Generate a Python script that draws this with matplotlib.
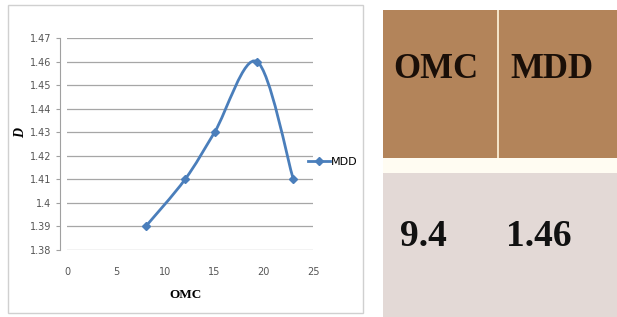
import matplotlib
matplotlib.use("Agg")
import matplotlib.pyplot as plt
from matplotlib.path import Path
from matplotlib.patches import PathPatch, Rectangle
from matplotlib.lines import Line2D

omc = [8, 12, 15, 19.3, 23]
mdd = [1.39, 1.41, 1.43, 1.46, 1.41]
yticks = [1.38, 1.39, 1.40, 1.41, 1.42, 1.43, 1.44, 1.45, 1.46, 1.47]
ytick_labels = ['1.38', '1.39', '1.4', '1.41', '1.42', '1.43', '1.44', '1.45', '1.46', '1.47']
xticks = [0, 5, 10, 15, 20, 25]
table_headers = ['OMC', 'MDD']
table_values = ['9.4', '1.46']

W, H = 617, 317
blue = '#4A7EBB'


def fx(px):
   return px / W


def fy(py):
   return 1 - py / H


def smoothPath(xs, ys):
   # excel-like smoothed line: cubic bezier through every point
   n = len(xs)
   verts = [(xs[0], ys[0])]
   codes = [Path.MOVETO]
   for i in range(n - 1):
      x0, y0 = (xs[i - 1], ys[i - 1]) if i > 0 else (xs[i], ys[i])
      x3, y3 = (xs[i + 2], ys[i + 2]) if i + 2 < n else (xs[i + 1], ys[i + 1])
      c1 = (xs[i] + (xs[i + 1] - x0) / 6, ys[i] + (ys[i + 1] - y0) / 6)
      c2 = (xs[i + 1] - (x3 - xs[i]) / 6, ys[i + 1] - (y3 - ys[i]) / 6)
      verts += [c1, c2, (xs[i + 1], ys[i + 1])]
      codes += [Path.CURVE4] * 3
   return Path(verts, codes)


fig = plt.figure(figsize=(W / 100, H / 100), dpi=100)

# chart frame
frame = fig.add_axes([0, 0, 1, 1])
frame.set_xlim(0, W)
frame.set_ylim(H, 0)
frame.axis('off')
frame.add_patch(Rectangle((8, 5), 355, 308, fill=False, edgecolor='#D0D0D0', lw=1))

ax = fig.add_axes([fx(67), fy(250), fx(313) - fx(67), fy(38) - fy(250)])
ax.set_xlim(0, 25)
ax.set_ylim(1.38, 1.47)
ax.set_yticks(yticks)
ax.set_yticklabels(ytick_labels)
ax.set_xticks(xticks)
for s in ['top', 'right', 'bottom']:
   ax.spines[s].set_visible(False)
ax.spines['left'].set_color('#A0A0A0')
ax.spines['left'].set_position(('outward', 5))
ax.grid(axis='y', color='#A6A6A6', lw=0.9)
ax.set_axisbelow(True)
ax.tick_params(axis='both', colors='#A0A0A0', labelcolor='#555555', labelsize=7, length=3)
ax.tick_params(axis='x', length=0, pad=12)
for lab in ax.get_xticklabels() + ax.get_yticklabels():
   lab.set_family(['Liberation Sans Narrow', 'DejaVu Sans'])

ax.add_patch(PathPatch(smoothPath(omc, mdd), fill=False, edgecolor=blue, lw=2))
ax.plot(omc, mdd, ls='none', marker='D', ms=4, color=blue)

ax.legend(handles=[Line2D([], [], color=blue, lw=2, marker='D', ms=4)], labels=['MDD'],
          loc='center left', bbox_to_anchor=(fx(302), fy(162)), bbox_transform=fig.transFigure,
          frameon=False, handlelength=2.0, handletextpad=0.1, borderpad=0,
          prop={'family': ['Liberation Sans Narrow', 'DejaVu Sans'], 'size': 8})

fig.text(fx(21), fy(133), 'D', rotation=90, ha='center', va='center', fontsize=10,
         fontweight='bold', fontstyle='italic', family='Liberation Serif')
fig.text(fx(185), fy(295), 'OMC', ha='center', va='center', fontsize=9.5,
         fontweight='bold', family='Liberation Serif')

# table on the right
col_x = [383, 499]
col_w = [114, 118]
frame.add_patch(Rectangle((383, 10), 234, 148, color='#B3845A', lw=0))
frame.add_patch(Rectangle((383, 158), 234, 15, color='#FFFCF2', lw=0))
frame.add_patch(Rectangle((383, 173), 234, 144, color='#E3D9D6', lw=0))
frame.add_patch(Rectangle((497, 10), 2, 148, color='#F3E3C8', lw=0))
for i in range(2):
   frame.text(col_x[i] + 53, 70, table_headers[i], ha='center', va='center', fontsize=25,
              fontweight='bold', family='Liberation Serif', color='#1A0F08')
   frame.text(col_x[i] + 40, 236, table_values[i], ha='center', va='center', fontsize=27,
              fontweight='bold', family='Liberation Serif', color='#111111')

fig.savefig('out.png', dpi=100)
